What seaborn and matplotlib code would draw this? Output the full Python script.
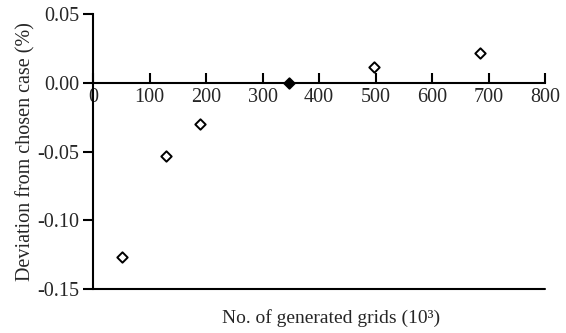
import matplotlib
matplotlib.use("Agg")
import matplotlib.pyplot as plt
import seaborn as sns
import pandas as pd

grids = [52, 130, 190, 497, 685]
deviation = [-0.1265, -0.0531, -0.0298, 0.0113, 0.0218]
chosen_grid = [347]
chosen_dev = [0.0]

sns.set_theme(style="white")
plt.rcParams['font.family'] = ['Liberation Serif', 'DejaVu Serif']
plt.rcParams['axes.unicode_minus'] = False

fig = plt.figure(figsize=(5.66, 3.33), dpi=100)
ax = fig.add_axes([0.1643, 0.132, 0.963 - 0.1643, 0.958 - 0.132])

df = pd.DataFrame({"x": grids, "y": deviation})
dfc = pd.DataFrame({"x": chosen_grid, "y": chosen_dev})
sns.scatterplot(data=df, x="x", y="y", marker="D", s=28, facecolor="white",
                edgecolor="black", linewidth=1.4, ax=ax, zorder=5, clip_on=False)
sns.scatterplot(data=dfc, x="x", y="y", marker="D", s=28, color="black",
                edgecolor="black", linewidth=1.4, ax=ax, zorder=5, clip_on=False)

ax.set_xlim(0, 800)
ax.set_ylim(-0.15, 0.05)
ax.set_xticks(range(0, 801, 100))
ax.set_yticks([-0.15, -0.10, -0.05, 0.00, 0.05])
ax.set_yticklabels(["-0.15", "-0.10", "-0.05", "0.00", "0.05"])

for s in ["top", "right"]:
    ax.spines[s].set_visible(False)
ax.spines["bottom"].set_position(("data", 0))
for s in ["left", "bottom"]:
    ax.spines[s].set_color("black")
    ax.spines[s].set_linewidth(1.5)
ax.axhline(-0.15, color="black", lw=1.5, clip_on=False, zorder=3)

ax.tick_params(axis="x", direction="in", length=7, width=1.5, color="black",
               labelsize=14.5, pad=4, bottom=True)
ax.tick_params(axis="y", direction="out", length=7, width=1.5, color="black",
               labelsize=14.5, pad=3, left=True)

ax.set_xlabel("")
ax.set_ylabel("Deviation from chosen case (%)", fontsize=14.5, labelpad=1)
fig.text(0.585, 0.045, "No. of generated grids (10³)", ha="center", va="center",
         fontsize=14)

fig.savefig("out.png", dpi=100)
